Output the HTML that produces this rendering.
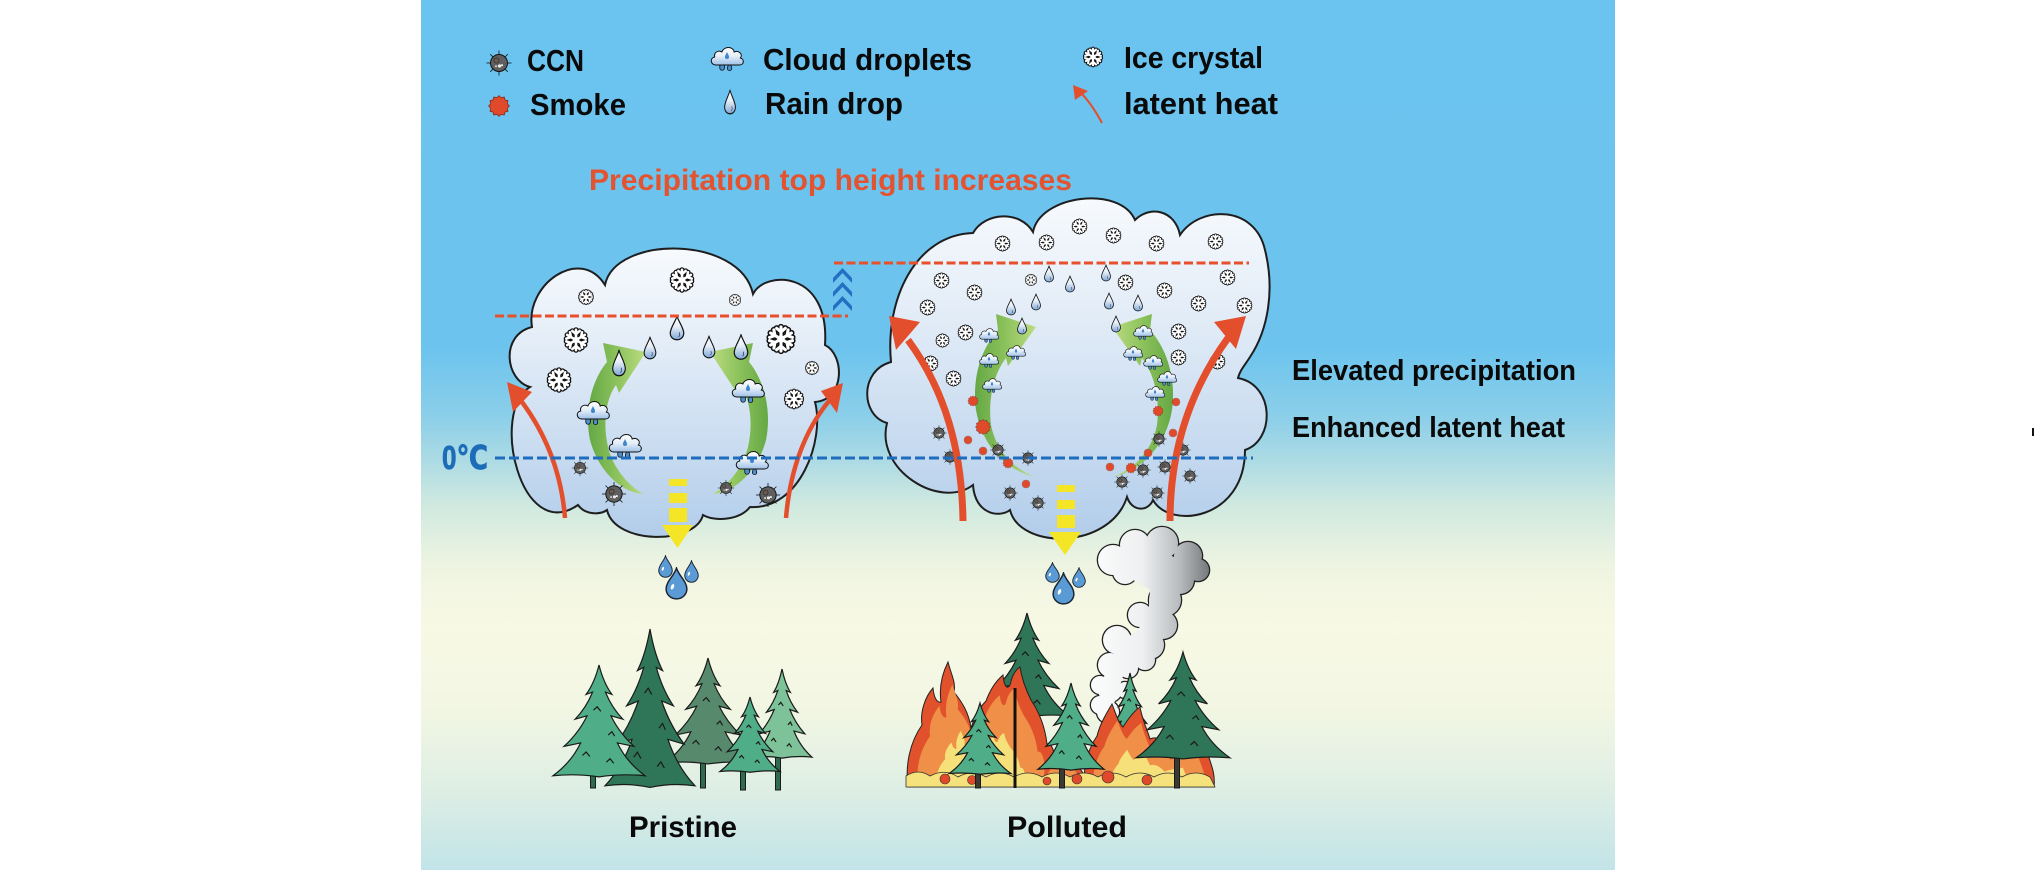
<!DOCTYPE html>
<html><head><meta charset="utf-8"><style>html,body{margin:0;padding:0;background:#fff;}svg{display:block}</style></head>
<body>
<svg width="2036" height="870" viewBox="0 0 2036 870" xmlns="http://www.w3.org/2000/svg" xmlns:xlink="http://www.w3.org/1999/xlink">
<defs>
<linearGradient id="bg" gradientUnits="userSpaceOnUse" x1="0" y1="0" x2="0" y2="870">
<stop offset="0" stop-color="#6bc3ef"/><stop offset="0.40" stop-color="#6cc4ee"/><stop offset="0.48" stop-color="#8ccfe9"/>
<stop offset="0.53" stop-color="#addbe4"/><stop offset="0.58" stop-color="#cfe9e0"/><stop offset="0.65" stop-color="#eef4e1"/>
<stop offset="0.72" stop-color="#f8f9e4"/><stop offset="0.82" stop-color="#f1f6e3"/><stop offset="0.90" stop-color="#e0efe4"/>
<stop offset="1" stop-color="#c2e4e8"/></linearGradient>
<linearGradient id="gc" x1="0" y1="0" x2="0" y2="1"><stop offset="0" stop-color="#f7fafd"/><stop offset="0.35" stop-color="#e2ecf7"/><stop offset="1" stop-color="#b2cdea"/></linearGradient>
<linearGradient id="gci" x1="0" y1="0" x2="0" y2="1"><stop offset="0" stop-color="#ffffff"/><stop offset="0.5" stop-color="#e4eef8"/><stop offset="1" stop-color="#9fc1e8"/></linearGradient>
<linearGradient id="gd" x1="0" y1="0" x2="0" y2="1"><stop offset="0" stop-color="#ffffff"/><stop offset="0.45" stop-color="#e6eef7"/><stop offset="1" stop-color="#7ea7d6"/></linearGradient>
<linearGradient id="gl" x1="0" y1="0" x2="1" y2="0"><stop offset="0" stop-color="#65a845"/><stop offset="0.5" stop-color="#8cc25c"/><stop offset="1" stop-color="#bcdc82"/></linearGradient>
<linearGradient id="gr" x1="0" y1="0" x2="1" y2="0"><stop offset="0" stop-color="#bcdc82"/><stop offset="0.5" stop-color="#8cc25c"/><stop offset="1" stop-color="#65a845"/></linearGradient>
<linearGradient id="gs" gradientUnits="userSpaceOnUse" x1="1095" y1="0" x2="1212" y2="0"><stop offset="0" stop-color="#fafbfb"/><stop offset="0.4" stop-color="#eef0f1"/><stop offset="0.72" stop-color="#b8bcbe"/><stop offset="1" stop-color="#6f7376"/></linearGradient>

<symbol id="sf" viewBox="-11 -11 22 22">
<g stroke="#111" stroke-width="4.2" stroke-linecap="round" fill="none">
<path id="arm" d="M0,0 V-8.3 M0,-4.8 L-3,-7.4 M0,-4.8 L3,-7.4"/>
<use xlink:href="#arm" transform="rotate(60)"/><use xlink:href="#arm" transform="rotate(120)"/><use xlink:href="#arm" transform="rotate(180)"/><use xlink:href="#arm" transform="rotate(240)"/><use xlink:href="#arm" transform="rotate(300)"/>
</g>
<g stroke="#fff" stroke-width="2.1" stroke-linecap="round" fill="none">
<use xlink:href="#arm"/><use xlink:href="#arm" transform="rotate(60)"/><use xlink:href="#arm" transform="rotate(120)"/><use xlink:href="#arm" transform="rotate(180)"/><use xlink:href="#arm" transform="rotate(240)"/><use xlink:href="#arm" transform="rotate(300)"/>
</g>
<circle r="2.6" fill="#fff"/>
</symbol>

<symbol id="rd" viewBox="0 0 10 17" preserveAspectRatio="none">
<path d="M5,0.5 C6,4 9.5,8.5 9.5,12 C9.5,14.7 7.5,16.5 5,16.5 C2.5,16.5 0.5,14.7 0.5,12 C0.5,8.5 4,4 5,0.5 Z" fill="url(#gd)" stroke="#111" stroke-width="0.8"/>
<path d="M6.5,11.5 C7,13 6.8,14 6,14.5" stroke="#335" stroke-width="0.5" fill="none"/>
</symbol>

<symbol id="cd" viewBox="0 0 36 30" preserveAspectRatio="none">
<path d="M11,21 L15.5,21 L15.5,25 A2.25,2.25 0 0 1 11,25 Z" fill="#4a8fd2" stroke="#111" stroke-width="0.8"/>
<path d="M20.5,19 C21.6,22 22.6,23.5 22.6,25.5 A2.1,2.1 0 0 1 18.4,25.5 C18.4,23.5 19.4,22 20.5,19Z" fill="#4a8fd2" stroke="#111" stroke-width="0.8"/>
<path d="M7,22 C2,22 1,15 6,14 C5,9 10,7 13,9 C15,3 24,3 25,9 C29,7 34,11 31,15 C35,16 35,22 30,22 Z" fill="url(#gci)" stroke="#111" stroke-width="1"/>
<path d="M18,9 C19,11.5 20,12.5 20,14 A2,2 0 0 1 16,14 C16,12.5 17,11.5 18,9Z" fill="#3f86cc"/>
</symbol>

<symbol id="ccn" viewBox="-13 -13 26 26">
<g stroke="#222" stroke-width="0.9">
<line x1="8" y1="0" x2="12.5" y2="0"/><line x1="5.66" y1="5.66" x2="8.8" y2="8.8"/><line x1="0" y1="8" x2="0" y2="12.5"/><line x1="-5.66" y1="5.66" x2="-8.8" y2="8.8"/>
<line x1="-8" y1="0" x2="-12.5" y2="0"/><line x1="-5.66" y1="-5.66" x2="-8.8" y2="-8.8"/><line x1="0" y1="-8" x2="0" y2="-12.5"/><line x1="5.66" y1="-5.66" x2="8.8" y2="-8.8"/>
</g>
<circle r="8.5" fill="#5f5f5f" stroke="#111" stroke-width="1"/>
<circle cx="-2.5" cy="-2.5" r="2.6" fill="#6e5a4e" stroke="#222" stroke-width="0.6"/>
<circle cx="0.5" cy="3" r="1.6" fill="#eee"/><circle cx="3" cy="2.2" r="1.1" fill="#eee"/><circle cx="-3" cy="3.2" r="1" fill="#ddd"/>
</symbol>

<symbol id="smk" viewBox="-10 -10 20 20">
<polygon points="9.5,0 7.53,2.02 8.23,4.75 5.52,5.52 4.75,8.23 2.02,7.53 0,9.5 -2.02,7.53 -4.75,8.23 -5.52,5.52 -8.23,4.75 -7.53,2.02 -9.5,0 -7.53,-2.02 -8.23,-4.75 -5.52,-5.52 -4.75,-8.23 -2.02,-7.53 0,-9.5 2.02,-7.53 4.75,-8.23 5.52,-5.52 8.23,-4.75 7.53,-2.02" fill="#e04a2a" stroke="#7a2010" stroke-width="0.6"/>
</symbol>

<symbol id="bd" viewBox="0 0 20 30" preserveAspectRatio="none">
<path d="M10,1 C12,8 19,13 19,20 A9,9 0 0 1 1,20 C1,13 8,8 10,1 Z" fill="#5b9bd5" stroke="#1b2533" stroke-width="1.3"/>
<ellipse cx="6.5" cy="18" rx="1.3" ry="2.6" transform="rotate(20 6.5 18)" fill="#fff"/>
</symbol>

<symbol id="pine" viewBox="0 0 100 100" preserveAspectRatio="none" overflow="visible">
<path vector-effect="non-scaling-stroke" d="M50,0 Q55,16 64,26 L57,24 Q64,38 76,48 L63,45 Q72,60 88,72 L70,69 Q80,86 100,98 Q75,96 50,99 Q25,96 0,98 Q20,86 30,69 L12,72 Q28,60 37,45 L24,48 Q36,38 43,24 L36,26 Q45,16 50,0 Z"/>
<path vector-effect="non-scaling-stroke" fill="none" d="M44,40 L48,37 L52,41 M60,62 L64,59 L67,63 M32,80 L36,77 L40,81 M58,86 L62,83 L66,87"/>
</symbol>

<path id="FL" d="M908,787 C905,765 910,742 922,725 C920,712 925,697 933,688 C934,698 937,703 941,702 C939,688 942,674 948,662 C951,674 956,682 954,692 C962,702 969,713 971,728 C975,716 980,707 986,701 C990,690 996,681 1003,675 C1004,686 1007,690 1010,685 C1012,676 1015,670 1020,667 C1022,680 1026,690 1031,700 C1039,712 1045,726 1047,744 C1054,742 1058,762 1052,787 Z"/>
<path id="FR" d="M1085,787 C1082,766 1089,748 1097,736 C1100,724 1106,714 1112,704 C1116,714 1118,722 1123,727 C1128,719 1134,711 1140,707 C1142,719 1147,729 1150,739 C1159,735 1168,743 1174,753 C1184,747 1195,747 1205,744 C1208,759 1216,770 1214,787 Z"/>
<path id="FM" d="M1040,787 C1040,770 1050,758 1058,750 C1062,760 1070,765 1075,760 C1080,770 1088,778 1088,787 Z"/>
</defs>

<rect x="0" y="0" width="2036" height="870" fill="#fff"/>
<rect x="421" y="0" width="1194" height="870" fill="url(#bg)"/>
<rect x="2032" y="428" width="2" height="8" fill="#111"/>

<!-- Legend -->
<g font-family="'Liberation Sans', Arial, sans-serif" font-weight="bold" font-size="31" fill="#0a0a0a">
<text x="527" y="71" textLength="57" lengthAdjust="spacingAndGlyphs">CCN</text>
<text x="530" y="115" textLength="96" lengthAdjust="spacingAndGlyphs">Smoke</text>
<text x="763" y="70" textLength="209" lengthAdjust="spacingAndGlyphs">Cloud droplets</text>
<text x="765" y="114" textLength="138" lengthAdjust="spacingAndGlyphs">Rain drop</text>
<text x="1124" y="68" textLength="139" lengthAdjust="spacingAndGlyphs">Ice crystal</text>
<text x="1124" y="114" textLength="154" lengthAdjust="spacingAndGlyphs">latent heat</text>
</g>
<use xlink:href="#ccn" x="486" y="50" width="26" height="26"/>
<use xlink:href="#smk" x="488" y="95" width="22" height="22"/>
<use xlink:href="#cd" x="708.5" y="43" width="37" height="30"/>
<use xlink:href="#rd" x="724" y="89.5" width="12" height="25"/>
<use xlink:href="#sf" x="1082" y="46" width="22" height="22"/>
<path d="M1102,123 C1095,110 1088,100 1081,93" stroke="#e34f2d" stroke-width="2" fill="none"/>
<polygon points="1073,85 1075,100 1088,91" fill="#e34f2d"/>

<text x="589" y="190" font-family="'Liberation Sans', Arial, sans-serif" font-weight="bold" font-size="30" fill="#e4532f" textLength="483" lengthAdjust="spacingAndGlyphs">Precipitation top height increases</text>

<!-- Clouds -->
<path d="M530,387 C505,380 500,335 532,327 C525,285 580,245 605,285 C615,235 740,235 753,294 C765,270 830,270 825,345 C845,355 845,400 815,402 C825,440 800,510 750,507 C740,520 715,522 703,515 C695,545 615,545 607,510 C600,515 585,515 578,505 C520,545 490,410 530,387 Z" fill="url(#gc)" stroke="#1e1e1e" stroke-width="2"/>
<path d="M891,362 C885,300 915,235 973,233 C985,212 1020,210 1033,232 C1040,195 1120,185 1135,220 C1150,205 1175,210 1180,235 C1200,205 1255,205 1265,250 C1275,290 1268,330 1250,357 C1245,365 1240,370 1238,378 C1275,385 1275,440 1245,450 C1245,520 1170,530 1153,500 C1148,512 1132,512 1127,497 C1110,550 1020,550 1010,510 C1000,518 975,515 973,485 C940,510 875,470 887,423 C860,415 860,370 891,362 Z" fill="url(#gc)" stroke="#1e1e1e" stroke-width="2"/>

<!-- Green arcs -->
<path d="M643,494 C620,492 598,470 590,440 C584,410 592,380 607,362 L603,343 L646,352 L619,393 L616,385 C605,400 603,425 608,447 C613,468 628,485 643,494 Z" fill="url(#gl)"/>
<path d="M713,494 C736,492 758,470 766,440 C772,410 764,380 749,362 L753,343 L710,352 L737,393 L740,385 C751,400 753,425 748,447 C743,468 728,485 713,494 Z" fill="url(#gr)"/>
<path d="M1035,477 C1005,470 982,445 976,410 C972,380 980,350 998,330 L996,314 L1036,327 L1008,366 L1006,358 C993,375 988,400 991,425 C996,450 1012,468 1035,477 Z" fill="url(#gl)"/>
<path d="M1113,477 C1143,470 1166,445 1172,410 C1176,380 1168,350 1150,330 L1152,314 L1112,327 L1140,366 L1142,358 C1155,375 1160,400 1157,425 C1152,450 1136,468 1113,477 Z" fill="url(#gr)"/>

<!-- Pristine icons -->
<use xlink:href="#sf" x="577.5" y="288.5" width="17" height="17"/>
<use xlink:href="#sf" x="668.5" y="266.5" width="27" height="27"/>
<use xlink:href="#sf" x="728.5" y="293.5" width="13" height="13"/>
<use xlink:href="#sf" x="562.5" y="326.5" width="27" height="27"/>
<use xlink:href="#sf" x="765" y="323" width="32" height="32"/>
<use xlink:href="#sf" x="545.5" y="366.5" width="27" height="27"/>
<use xlink:href="#sf" x="804.5" y="360.5" width="15" height="15"/>
<use xlink:href="#sf" x="783" y="388" width="22" height="22"/>
<use xlink:href="#rd" x="669.5" y="315.5" width="15" height="25"/>
<use xlink:href="#rd" x="643.5" y="336.5" width="13" height="23"/>
<use xlink:href="#rd" x="612" y="349.5" width="14" height="27"/>
<use xlink:href="#rd" x="702.5" y="335.5" width="13" height="23"/>
<use xlink:href="#rd" x="733.5" y="334" width="15" height="26"/>
<use xlink:href="#cd" x="574.5" y="397" width="37" height="30"/>
<use xlink:href="#cd" x="606.5" y="430" width="37" height="30"/>
<use xlink:href="#cd" x="729.5" y="375" width="37" height="30"/>
<use xlink:href="#cd" x="733.5" y="447" width="37" height="30"/>
<use xlink:href="#ccn" x="571.5" y="459.5" width="17" height="17"/>
<use xlink:href="#ccn" x="601.5" y="481.5" width="25" height="25"/>
<use xlink:href="#ccn" x="717.5" y="479.5" width="17" height="17"/>
<use xlink:href="#ccn" x="755.5" y="482.5" width="25" height="25"/>

<!-- Polluted icons -->
<g>
<use xlink:href="#sf" x="994" y="235" width="17" height="17"/>
<use xlink:href="#sf" x="1038" y="234" width="17" height="17"/>
<use xlink:href="#sf" x="1071" y="218" width="17" height="17"/>
<use xlink:href="#sf" x="1105" y="227" width="17" height="17"/>
<use xlink:href="#sf" x="1148" y="235" width="17" height="17"/>
<use xlink:href="#sf" x="1207" y="233" width="17" height="17"/>
<use xlink:href="#sf" x="933" y="272" width="17" height="17"/>
<use xlink:href="#sf" x="966" y="284" width="17" height="17"/>
<use xlink:href="#sf" x="1024.5" y="273.5" width="13" height="13"/>
<use xlink:href="#sf" x="1117" y="274" width="17" height="17"/>
<use xlink:href="#sf" x="1156" y="282" width="17" height="17"/>
<use xlink:href="#sf" x="1219" y="269" width="17" height="17"/>
<use xlink:href="#sf" x="919" y="299" width="17" height="17"/>
<use xlink:href="#sf" x="1190" y="295" width="17" height="17"/>
<use xlink:href="#sf" x="1236" y="297" width="17" height="17"/>
<use xlink:href="#sf" x="957" y="324" width="17" height="17"/>
<use xlink:href="#sf" x="935" y="333" width="15" height="15"/>
<use xlink:href="#sf" x="1170" y="323" width="17" height="17"/>
<use xlink:href="#sf" x="1170" y="349" width="17" height="17"/>
<use xlink:href="#sf" x="922" y="355" width="17" height="17"/>
<use xlink:href="#sf" x="945" y="370" width="17" height="17"/>
<use xlink:href="#sf" x="1209" y="353" width="17" height="17"/>
</g>
<g>
<use xlink:href="#rd" x="1044" y="265.5" width="10" height="17"/>
<use xlink:href="#rd" x="1065" y="275.5" width="10" height="17"/>
<use xlink:href="#rd" x="1101" y="264.5" width="10" height="17"/>
<use xlink:href="#rd" x="1006" y="298.5" width="10" height="17"/>
<use xlink:href="#rd" x="1031" y="293.5" width="10" height="17"/>
<use xlink:href="#rd" x="1104" y="292.5" width="10" height="17"/>
<use xlink:href="#rd" x="1133" y="294.5" width="10" height="17"/>
<use xlink:href="#rd" x="1017" y="317.5" width="10" height="17"/>
<use xlink:href="#rd" x="1111" y="315.5" width="10" height="17"/>
</g>
<g>
<use xlink:href="#cd" x="978" y="326" width="22" height="18"/>
<use xlink:href="#cd" x="1005" y="343" width="22" height="18"/>
<use xlink:href="#cd" x="978" y="351" width="22" height="18"/>
<use xlink:href="#cd" x="981" y="376" width="22" height="18"/>
<use xlink:href="#cd" x="1132" y="323" width="22" height="18"/>
<use xlink:href="#cd" x="1122" y="344" width="22" height="18"/>
<use xlink:href="#cd" x="1142" y="353" width="22" height="18"/>
<use xlink:href="#cd" x="1156" y="369" width="22" height="18"/>
<use xlink:href="#cd" x="1144" y="384" width="22" height="18"/>
</g>
<g>
<use xlink:href="#smk" x="967.5" y="395.5" width="11" height="11"/>
<use xlink:href="#smk" x="975" y="419" width="16" height="16"/>
<use xlink:href="#smk" x="963.5" y="435.5" width="9" height="9"/>
<use xlink:href="#smk" x="978.5" y="446.5" width="9" height="9"/>
<use xlink:href="#smk" x="1002.5" y="457.5" width="11" height="11"/>
<use xlink:href="#smk" x="1021.5" y="479.5" width="9" height="9"/>
<use xlink:href="#smk" x="1171.5" y="397.5" width="9" height="9"/>
<use xlink:href="#smk" x="1152.5" y="405.5" width="11" height="11"/>
<use xlink:href="#smk" x="1168.5" y="428.5" width="9" height="9"/>
<use xlink:href="#smk" x="1143.5" y="448.5" width="9" height="9"/>
<use xlink:href="#smk" x="1105.5" y="462.5" width="9" height="9"/>
<use xlink:href="#smk" x="1125.5" y="462.5" width="11" height="11"/>
</g>
<g>
<use xlink:href="#ccn" x="931" y="425" width="16" height="16"/>
<use xlink:href="#ccn" x="942" y="449" width="16" height="16"/>
<use xlink:href="#ccn" x="990" y="442" width="16" height="16"/>
<use xlink:href="#ccn" x="1020" y="450" width="16" height="16"/>
<use xlink:href="#ccn" x="1002" y="485" width="16" height="16"/>
<use xlink:href="#ccn" x="1030" y="495" width="16" height="16"/>
<use xlink:href="#ccn" x="1151" y="431" width="16" height="16"/>
<use xlink:href="#ccn" x="1175" y="442" width="16" height="16"/>
<use xlink:href="#ccn" x="1135" y="462" width="16" height="16"/>
<use xlink:href="#ccn" x="1157" y="459" width="16" height="16"/>
<use xlink:href="#ccn" x="1182" y="468" width="16" height="16"/>
<use xlink:href="#ccn" x="1114" y="474" width="16" height="16"/>
<use xlink:href="#ccn" x="1149" y="485" width="16" height="16"/>
</g>

<!-- Red latent heat arrows -->
<g stroke="#e34f2d" fill="none" stroke-linecap="butt">
<path d="M565,518 C562,480 550,440 522,402" stroke-width="4.5"/>
<path d="M786,518 C790,470 805,430 829,401" stroke-width="4.5"/>
<path d="M963,521 C962,450 945,390 908,340" stroke-width="7"/>
<path d="M1170,521 C1170,450 1190,390 1228,338" stroke-width="7"/>
</g>
<g fill="#e34f2d">
<polygon points="507,382 513,412 532,392"/>
<polygon points="843,383 821,391 837,413"/>
<polygon points="889,316 896,350 920,322"/>
<polygon points="1246,316 1214,322 1236,349"/>
</g>

<!-- Dashed lines -->
<line x1="495" y1="316" x2="848" y2="316" stroke="#e8502c" stroke-width="3" stroke-dasharray="9 3.5"/>
<line x1="834" y1="263" x2="1249" y2="263" stroke="#e8502c" stroke-width="3" stroke-dasharray="9 3.5"/>
<line x1="495" y1="458" x2="1253" y2="458" stroke="#1e6cc0" stroke-width="3" stroke-dasharray="10 4"/>
<g fill="#2370c2">
<polygon points="833,278 842.5,268 852,278 852,283 842.5,273 833,283"/>
<polygon points="833,292 842.5,282 852,292 852,297 842.5,287 833,297"/>
<polygon points="833,306 842.5,296 852,306 852,311 842.5,301 833,311"/>
</g>
<text x="442" y="469" font-family="'Liberation Sans', 'DejaVu Sans', sans-serif" font-weight="bold" font-size="33" fill="#1c6cb7" stroke="#1c6cb7" stroke-width="0.8" textLength="46" lengthAdjust="spacingAndGlyphs">0℃</text>

<!-- Yellow arrows -->
<g fill="#f4e526">
<rect x="669" y="479" width="18" height="7"/><rect x="669" y="493" width="18" height="10"/><rect x="669" y="508" width="18" height="14"/>
<polygon points="662,525 693,525 677.5,548"/>
<rect x="1057" y="485" width="18" height="7"/><rect x="1057" y="500" width="18" height="9"/><rect x="1057" y="515" width="18" height="13"/>
<polygon points="1049,532 1081,532 1065,555"/>
</g>

<!-- Blue rain drops -->
<use xlink:href="#bd" x="658" y="555" width="15" height="23"/>
<use xlink:href="#bd" x="684" y="560" width="15" height="23"/>
<use xlink:href="#bd" x="665" y="567" width="23" height="33"/>
<use xlink:href="#bd" x="1045" y="562" width="15" height="21"/>
<use xlink:href="#bd" x="1072" y="567" width="14" height="21"/>
<use xlink:href="#bd" x="1052" y="572" width="23" height="33"/>

<!-- Right texts -->
<g font-family="'Liberation Sans', Arial, sans-serif" font-weight="bold" font-size="29" fill="#0a0a0a">
<text x="1292" y="380" textLength="284" lengthAdjust="spacingAndGlyphs">Elevated precipitation</text>
<text x="1292" y="437" textLength="273" lengthAdjust="spacingAndGlyphs">Enhanced latent heat</text>
</g>

<!-- Smoke plume -->
<g fill="#222">
<circle cx="1113" cy="560" r="16.3"/><circle cx="1135" cy="545" r="16.3"/><circle cx="1162" cy="543" r="17.3"/><circle cx="1188" cy="556" r="15.3"/>
<circle cx="1198" cy="570" r="12.3"/><circle cx="1180" cy="580" r="15.3"/><circle cx="1150" cy="565" r="19.3"/><circle cx="1125" cy="572" r="13.3"/>
<circle cx="1165" cy="600" r="17.3"/><circle cx="1163" cy="625" r="15.3"/><circle cx="1150" cy="645" r="15.3"/><circle cx="1140" cy="615" r="13.3"/>
<circle cx="1117" cy="640" r="15.3"/><circle cx="1135" cy="650" r="13.3"/><circle cx="1145" cy="660" r="11.3"/><circle cx="1110" cy="665" r="13.3"/>
<circle cx="1128" cy="668" r="11.3"/><circle cx="1100" cy="685" r="10.3"/><circle cx="1110" cy="690" r="13.3"/><circle cx="1100" cy="705" r="10.3"/>
<circle cx="1108" cy="712" r="12.3"/><circle cx="1125" cy="690" r="9.3"/>
</g>
<g fill="url(#gs)">
<circle cx="1113" cy="560" r="15"/><circle cx="1135" cy="545" r="15"/><circle cx="1162" cy="543" r="16"/><circle cx="1188" cy="556" r="14"/>
<circle cx="1198" cy="570" r="11"/><circle cx="1180" cy="580" r="14"/><circle cx="1150" cy="565" r="18"/><circle cx="1125" cy="572" r="12"/>
<circle cx="1165" cy="600" r="16"/><circle cx="1163" cy="625" r="14"/><circle cx="1150" cy="645" r="14"/><circle cx="1140" cy="615" r="12"/>
<circle cx="1117" cy="640" r="14"/><circle cx="1135" cy="650" r="12"/><circle cx="1145" cy="660" r="10"/><circle cx="1110" cy="665" r="12"/>
<circle cx="1128" cy="668" r="10"/><circle cx="1100" cy="685" r="9"/><circle cx="1110" cy="690" r="12"/><circle cx="1100" cy="705" r="9"/>
<circle cx="1108" cy="712" r="11"/><circle cx="1125" cy="690" r="8"/>
<polygon points="1115,562 1150,545 1190,565 1175,585 1165,610 1160,635 1140,655 1125,670 1112,710 1102,705 1105,665 1125,640 1148,620 1150,590 1125,575"/>
</g>

<!-- Pristine trees -->
<g stroke="#1a1a1a" stroke-width="1">
<rect x="700.5" y="740" width="5" height="48" fill="#2e6b52"/>
<rect x="775.5" y="740" width="5" height="50" fill="#2e6b52"/>
<rect x="740.5" y="760" width="5" height="30" fill="#2e6b52"/>
<rect x="590.5" y="765" width="5" height="23" fill="#2e6b52"/>
</g>
<g stroke="#1a1a1a" stroke-width="1.2">
<use xlink:href="#pine" x="665" y="658" width="86" height="107" fill="#578a6c"/>
<use xlink:href="#pine" x="752" y="669" width="60" height="90" fill="#7dc298"/>
<use xlink:href="#pine" x="605" y="629" width="90" height="160" fill="#2f7558"/>
<use xlink:href="#pine" x="720" y="697" width="60" height="76" fill="#4fae88"/>
<use xlink:href="#pine" x="553" y="665" width="92" height="113" fill="#4fae88"/>
</g>

<!-- Polluted trees & fire -->
<g stroke="#1a1a1a" stroke-width="1.2">
<use xlink:href="#pine" x="985" y="613" width="84" height="105" fill="#2f7558"/>
<use xlink:href="#pine" x="1108" y="673" width="44" height="70" fill="#4fae88"/>
</g>
<g stroke="#222" stroke-width="1">
<use xlink:href="#FL" fill="#e1512b"/>
<use xlink:href="#FR" fill="#e1512b"/>
<use xlink:href="#FM" fill="#e1512b"/>
</g>
<use xlink:href="#FL" fill="#ef8f48" transform="translate(980,787) scale(0.86,0.82) translate(-980,-787)"/>
<use xlink:href="#FR" fill="#ef8f48" transform="translate(1150,787) scale(0.86,0.8) translate(-1150,-787)"/>
<use xlink:href="#FM" fill="#ef8f48" transform="translate(1064,787) scale(0.8,0.75) translate(-1064,-787)"/>
<use xlink:href="#FL" fill="#f6e07a" transform="translate(980,787) scale(0.6,0.45) translate(-980,-787)"/>
<use xlink:href="#FR" fill="#f6e07a" transform="translate(1150,787) scale(0.6,0.45) translate(-1150,-787)"/>
<path d="M906,787 L906,776 Q918,768 930,776 Q945,768 958,777 Q972,769 986,777 Q1000,769 1014,777 Q1028,769 1042,777 Q1056,769 1070,777 Q1084,769 1098,777 Q1112,769 1126,777 Q1140,769 1154,777 Q1168,769 1182,777 Q1196,769 1210,777 L1215,787 Z" fill="#f6e27c" stroke="#333" stroke-width="0.8"/>
<g fill="#e04a2a" stroke="#333" stroke-width="0.6">
<circle cx="945" cy="779" r="5"/><circle cx="972" cy="780" r="4.5"/><circle cx="1047" cy="781" r="4"/><circle cx="1077" cy="779" r="5"/><circle cx="1108" cy="777" r="6"/><circle cx="1147" cy="780" r="5"/>
</g>
<line x1="1015" y1="688" x2="1015" y2="788" stroke="#111" stroke-width="3"/>
<g stroke="#1a1a1a" stroke-width="1">
<rect x="975.5" y="765" width="5" height="23" fill="#3a3a34"/>
<rect x="1059.5" y="760" width="5" height="28" fill="#3a3a34"/>
<rect x="1174.5" y="750" width="5" height="38" fill="#3a3a34"/>
</g>
<g stroke="#1a1a1a" stroke-width="1.2">
<use xlink:href="#pine" x="949" y="703" width="62" height="72" fill="#4fae88"/>
<use xlink:href="#pine" x="1038" y="683" width="66" height="88" fill="#4fae88"/>
<use xlink:href="#pine" x="1136" y="652" width="94" height="108" fill="#2f7558"/>
</g>

<!-- Bottom labels -->
<g font-family="'Liberation Sans', Arial, sans-serif" font-weight="bold" font-size="29.5" fill="#0a0a0a">
<text x="629" y="837" textLength="108" lengthAdjust="spacingAndGlyphs">Pristine</text>
<text x="1007" y="837" textLength="120" lengthAdjust="spacingAndGlyphs">Polluted</text>
</g>
</svg>
</body></html>
